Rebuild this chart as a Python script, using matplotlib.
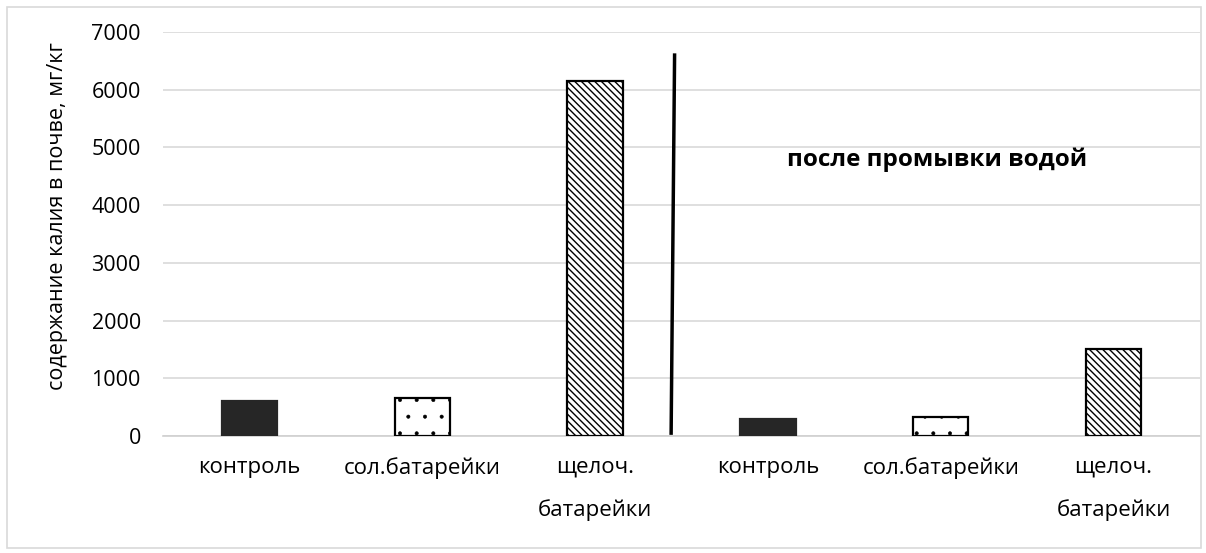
import matplotlib
matplotlib.use("Agg")
import matplotlib.pyplot as plt
from matplotlib.patches import Rectangle

categories = ["контроль", "сол.батарейки", "щелоч.\nбатарейки",
              "контроль", "сол.батарейки", "щелоч.\nбатарейки"]
values = [600, 650, 6150, 290, 330, 1500]
y_ticks = [0, 1000, 2000, 3000, 4000, 5000, 6000, 7000]
ylabel = "содержание калия в почве, мг/кг"
annotation = "после промывки водой"
divider_x = [2.46, 2.44]
divider_y = [6600, 50]

plt.rcParams['font.family'] = ['Open Sans', 'DejaVu Sans']

fig = plt.figure(figsize=(12.06, 5.53), dpi=100)
ax = fig.add_axes([163/1206, 1-436/553, (1200-163)/1206, (436-32)/553])

face = ["#262626", "white", "white", "#262626", "white", "white"]
edge = ["#262626", "black", "black", "#262626", "black", "black"]
hatches = [None, ".", "\\\\\\\\\\", None, ".", "\\\\\\\\\\"]
hatch_lw = [1.0, 0.4, 1.0, 1.0, 0.4, 1.0]
x = list(range(len(values)))
for xi, v, fc, ec, h, hl in zip(x, values, face, edge, hatches, hatch_lw):
    with plt.rc_context({'hatch.linewidth': hl}):
        ax.bar(xi, v, width=0.32, color=fc, edgecolor=ec, hatch=h, linewidth=1.6, zorder=3)

ax.plot(divider_x, divider_y, color="black", linewidth=2.5, zorder=4)
ax.text(3.98, 4780, annotation, ha="center", va="center", fontsize=17.5, fontweight="bold")

ax.set_xlim(-0.5, 5.5)
ax.set_ylim(0, 7000)
ax.set_yticks(y_ticks)
ax.set_yticklabels([str(t) for t in y_ticks], fontsize=15.5)
ax.set_xticks(x)
ax.set_xticklabels(categories, fontsize=16, linespacing=2.25, va="top")
ax.tick_params(axis="both", length=0)
ax.tick_params(axis="x", pad=15)
ax.tick_params(axis="y", pad=16)
ax.grid(axis="y", color="#d9d9d9", linewidth=1.2, zorder=0)
for s in ["top", "right", "left"]:
    ax.spines[s].set_visible(False)
ax.spines["bottom"].set_color("#d0d0d0")
ax.spines["bottom"].set_linewidth(1.2)
ax.set_ylabel(ylabel, fontsize=15.5)
ax.yaxis.set_label_coords(-0.0915, 0.545)

fig.patches.append(Rectangle((7/1206, 5/553), 1194/1206, 541/553, transform=fig.transFigure,
                             fill=False, edgecolor="#d9d9d9", linewidth=1.2))

fig.savefig("out.png", dpi=100)
